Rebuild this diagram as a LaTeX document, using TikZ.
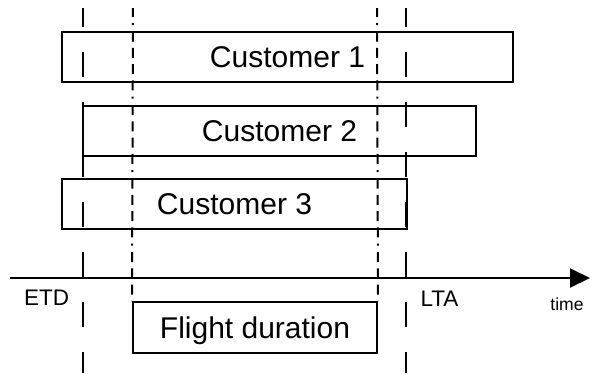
\documentclass[tikz,border=0pt]{standalone}
\usepackage{fontspec}
\setmainfont{Liberation Sans}
\usetikzlibrary{arrows.meta}
\begin{document}
\begin{tikzpicture}[x=1pt,y=-1pt,line width=2pt,
  bx/.style={draw,line width=2pt,inner sep=0pt,minimum height=50pt,
    text height=21.5pt,text depth=0pt,font=\fontsize{30}{36}\selectfont},
  lbl/.style={inner sep=0pt,anchor=base,font=\fontsize{22.5}{27}\selectfont},
  small/.style={inner sep=0pt,anchor=base,font=\fontsize{17.5}{21}\selectfont},
  bound/.style={line width=2pt,dash pattern=on 25pt off 25pt,dash phase=6pt},
  dd/.style={line width=2pt,dash pattern=on 2pt off 6.5pt on 10pt off 6.25pt on 10pt off 6.25pt on 10pt off 6.25pt on 10pt off 6.25pt,dash phase=58.5pt},
  axis/.style={line width=2pt,-{Triangle[length=20pt,width=19pt]}}]
\useasboundingbox (0,0) rectangle (590,373);
% boxes
\node[bx,minimum width=451pt] (c1) at (287.5,57) {Customer 1};
\node[bx,minimum width=393pt] (c2) at (279.5,131) {Customer 2};
\node[bx,minimum width=345pt] (c3) at (234.5,204) {Customer 3};
\node[bx,minimum width=244pt,minimum height=51pt] (fl) at (255,327.5) {Flight duration};
% boundary lines
\coordinate (etdtop) at (83,8);
\coordinate (etdbot) at (83,373);
\coordinate (ltatop) at (406,8);
\coordinate (ltabot) at (406,373);
\draw[bound] (etdtop) -- (etdbot);
\draw[bound] (ltatop) -- (ltabot);
% dash-dot lines
\coordinate (fltopl) at (133,8);
\coordinate (fltopr) at (377,8);
\draw[dd] (fltopl) -- (fl.north west);
\draw[dd] (fltopr) -- (fl.north east);
% axis
\coordinate (ax0) at (10,278);
\coordinate (ax1) at (590,278);
\draw[axis] (ax0) -- (ax1);
% labels
\node[lbl] (etd) at (46.5,305) {ETD};
\node[lbl] (lta) at (439.5,306.5) {LTA};
\node[small] (time) at (567,310) {time};
\end{tikzpicture}
\end{document}
